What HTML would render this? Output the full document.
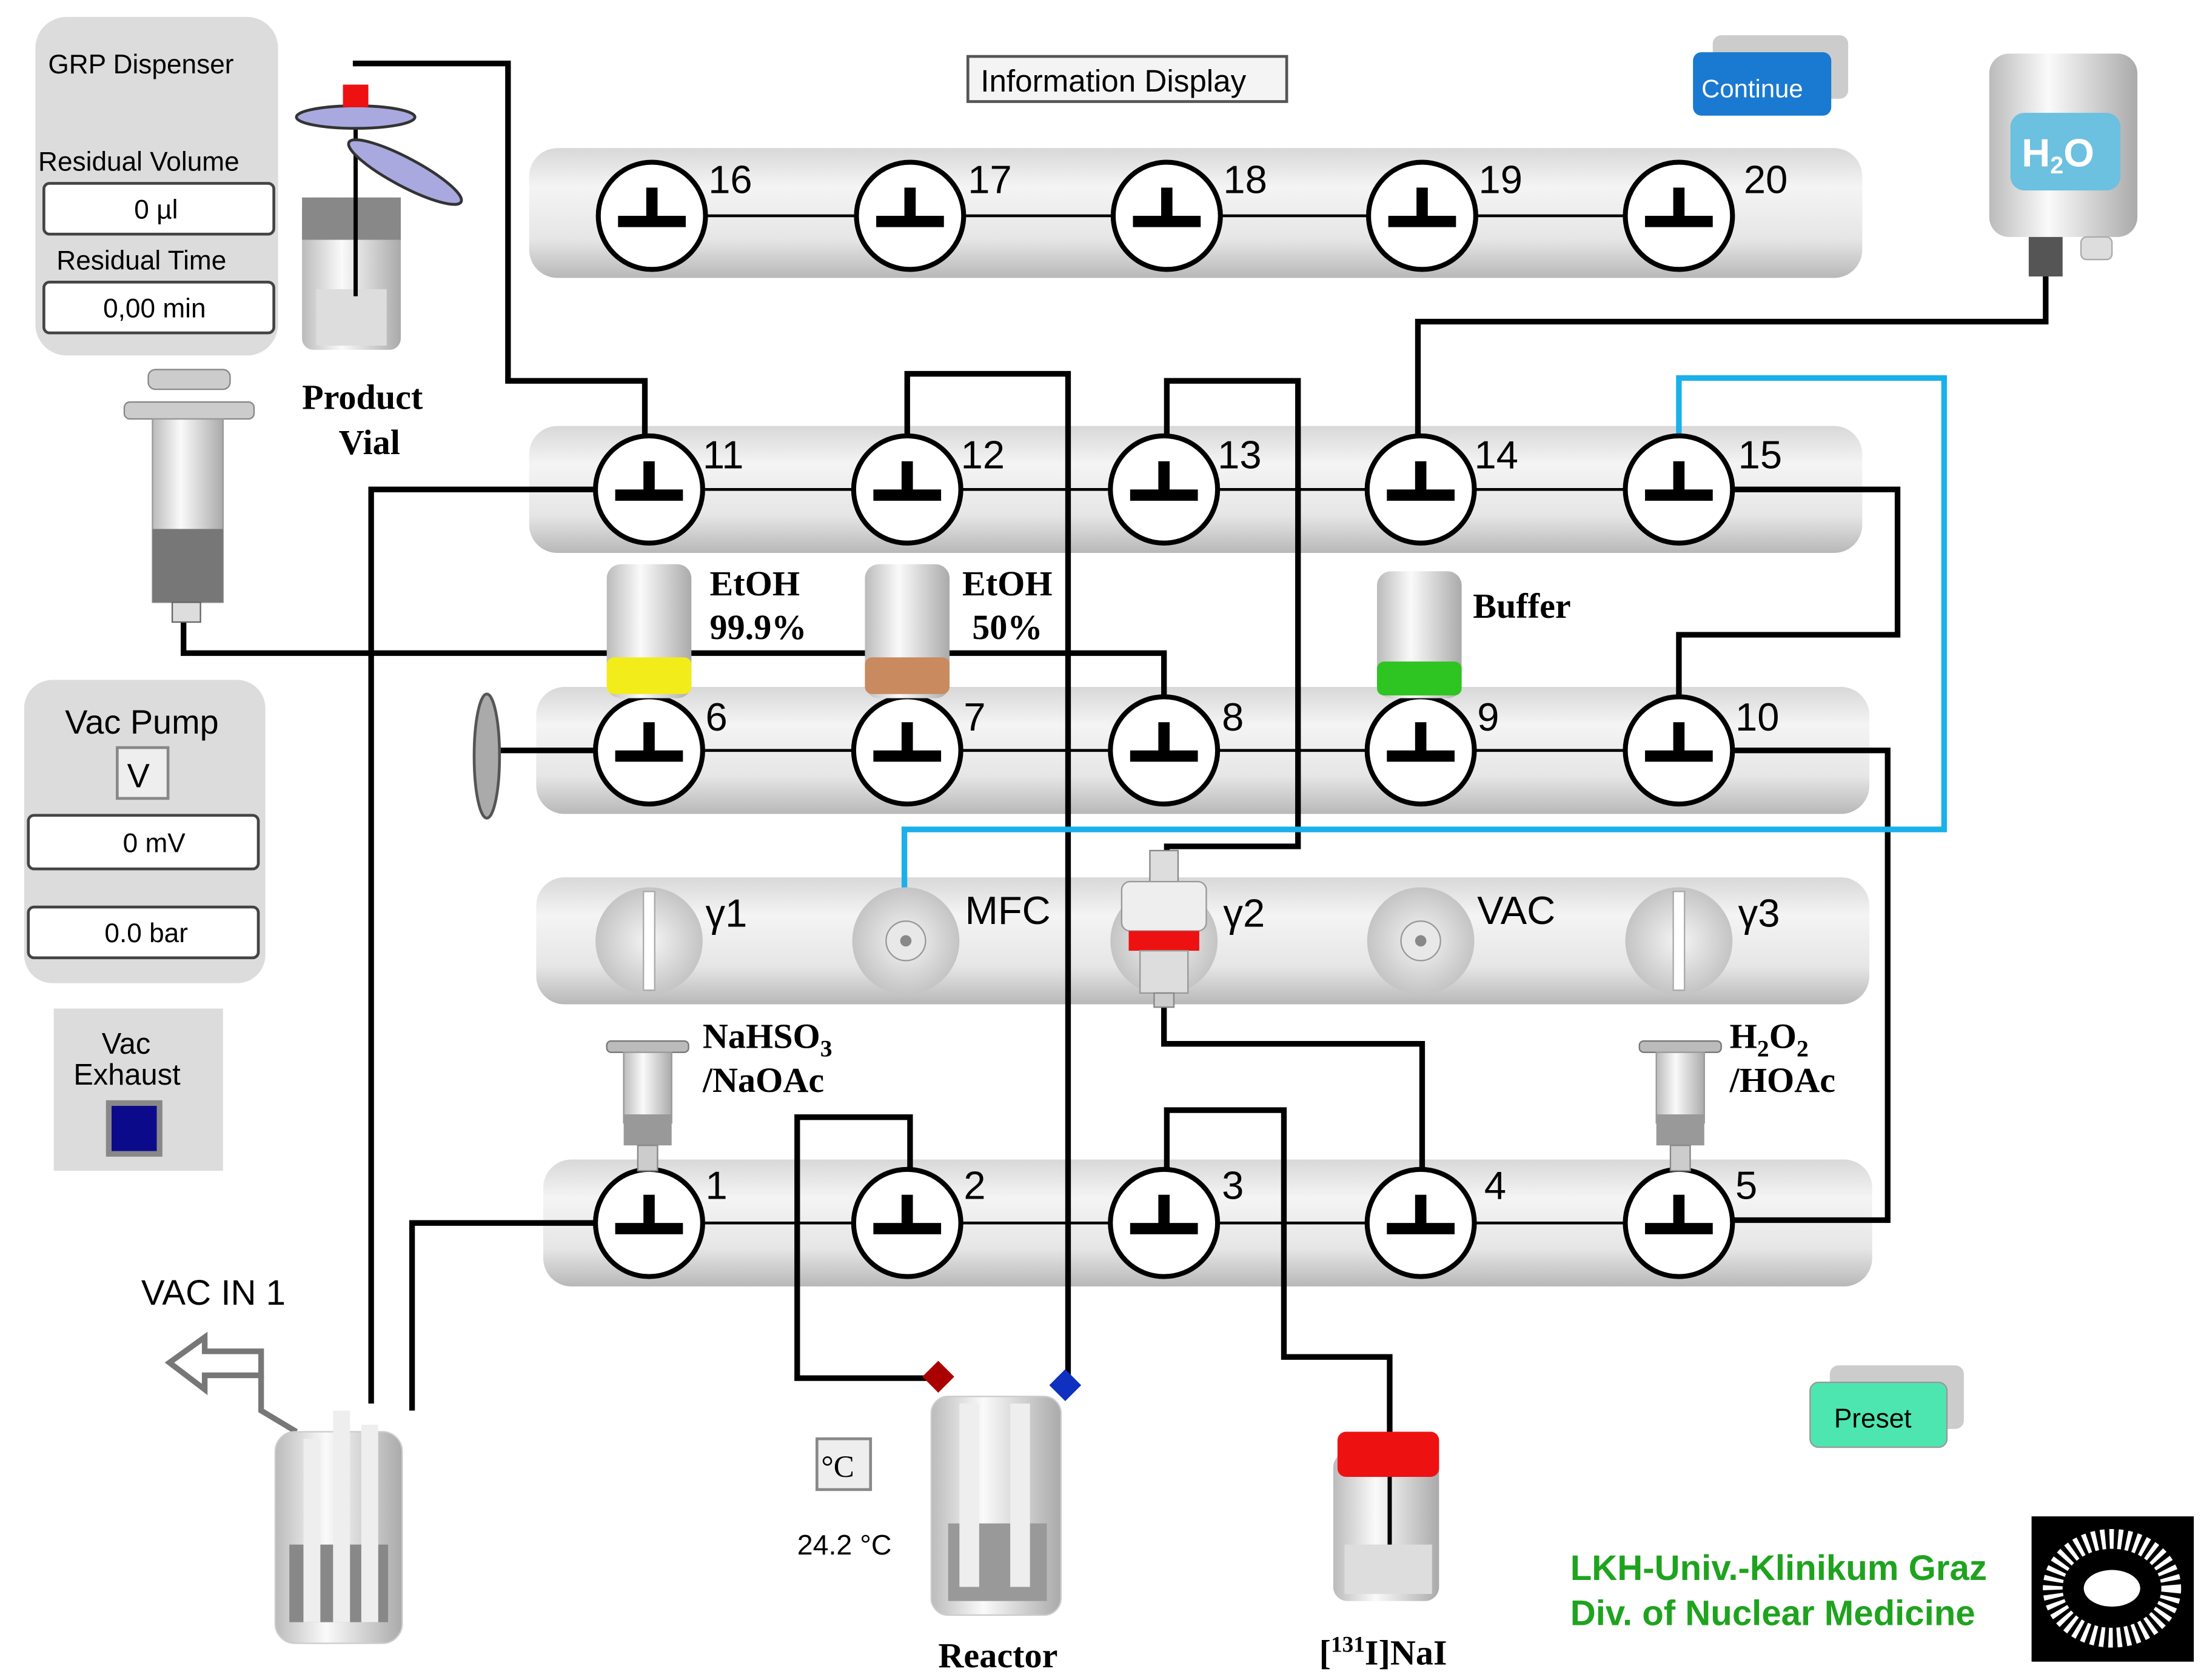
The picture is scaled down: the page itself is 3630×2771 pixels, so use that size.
<!DOCTYPE html>
<html><head><meta charset="utf-8"><style>
html,body{margin:0;padding:0;background:#fff;}
svg{display:block;}
</style></head><body>
<svg xmlns="http://www.w3.org/2000/svg" width="3630" height="2771" viewBox="0 0 1560 1191">
<defs>
<linearGradient id="rail" x1="0" y1="0" x2="0" y2="1">
<stop offset="0" stop-color="#d8d8d8"/><stop offset="0.3" stop-color="#f4f4f4"/><stop offset="0.7" stop-color="#e6e6e6"/><stop offset="1" stop-color="#b8b8b8"/></linearGradient>
<linearGradient id="cyl" x1="0" y1="0" x2="1" y2="0">
<stop offset="0" stop-color="#bbb"/><stop offset="0.4" stop-color="#fafafa"/><stop offset="1" stop-color="#aaa"/></linearGradient>
<radialGradient id="knob"><stop offset="0" stop-color="#f5f5f5"/><stop offset="1" stop-color="#c4c4c4"/></radialGradient>
<g id="v"><circle r="38" fill="#fff" stroke="#000" stroke-width="3.5"/><rect x="-24" y="0" width="48" height="8" fill="#000"/><rect x="-4" y="-20" width="8" height="24" fill="#000"/></g>
</defs>
<rect width="1560" height="1191" fill="#fff"/>

<!-- rails -->
<rect x="375" y="105" width="945" height="92" rx="20" fill="url(#rail)"/>
<rect x="375" y="302" width="945" height="90" rx="20" fill="url(#rail)"/>
<rect x="380" y="487" width="945" height="90" rx="20" fill="url(#rail)"/>
<rect x="380" y="622" width="945" height="90" rx="20" fill="url(#rail)"/>
<rect x="385" y="822" width="942" height="90" rx="20" fill="url(#rail)"/>

<!-- horizontal links between valves -->
<g stroke="#000" stroke-width="2">
<line x1="462" y1="153" x2="1190" y2="153"/>
<line x1="462" y1="347" x2="1190" y2="347"/>
<line x1="462" y1="532" x2="1190" y2="532"/>
<line x1="462" y1="867" x2="1190" y2="867"/>
</g>

<!-- tubes -->
<g fill="none" stroke="#000" stroke-width="4">
<polyline points="250,45 360,45 360,270 457,270 457,312"/>
<polyline points="643,312 643,265 757,265 757,982"/>
<polyline points="827,312 827,270 920,270 920,600 827,600 827,625"/>
<polyline points="1005,312 1005,228 1450,228 1450,195"/>
<polyline points="1228,347 1345,347 1345,450 1190,450 1190,495"/>
<polyline points="424,347 263,347 263,995"/>
<polyline points="130,440 130,463 825,463 825,495"/>
<polyline points="1228,532 1338,532 1338,865 1228,865"/>
<polyline points="825,712 825,740 1008,740 1008,830"/>
<polyline points="645,830 645,792 565,792 565,977 662,977"/>
<polyline points="827,830 827,787 910,787 910,962 985,962 985,1018"/>
<polyline points="424,867 292,867 292,1000"/>
<polyline points="424,532 350,532"/>
</g>
<polyline points="1190,312 1190,268 1378,268 1378,588 641,588 641,665" fill="none" stroke="#1ab0ea" stroke-width="4"/>

<!-- valves -->
<g font-family="Liberation Sans, sans-serif" font-size="28" fill="#000">
<use href="#v" x="462" y="153"/><use href="#v" x="645" y="153"/><use href="#v" x="827" y="153"/><use href="#v" x="1008" y="153"/><use href="#v" x="1190" y="153"/>
<text x="502" y="137">16</text><text x="686" y="137">17</text><text x="867" y="137">18</text><text x="1048" y="137">19</text><text x="1236" y="137">20</text>
<use href="#v" x="460" y="347"/><use href="#v" x="643" y="347"/><use href="#v" x="825" y="347"/><use href="#v" x="1007" y="347"/><use href="#v" x="1190" y="347"/>
<text x="498" y="332">11</text><text x="681" y="332">12</text><text x="863" y="332">13</text><text x="1045" y="332">14</text><text x="1232" y="332">15</text>
<use href="#v" x="460" y="532"/><use href="#v" x="643" y="532"/><use href="#v" x="825" y="532"/><use href="#v" x="1007" y="532"/><use href="#v" x="1190" y="532"/>
<text x="500" y="518">6</text><text x="683" y="518">7</text><text x="866" y="518">8</text><text x="1047" y="518">9</text><text x="1230" y="518">10</text>
<use href="#v" x="460" y="867"/><use href="#v" x="643" y="867"/><use href="#v" x="825" y="867"/><use href="#v" x="1007" y="867"/><use href="#v" x="1190" y="867"/>
<text x="500" y="850">1</text><text x="683" y="850">2</text><text x="866" y="850">3</text><text x="1052" y="850">4</text><text x="1230" y="850">5</text>
</g>

<!-- gamma rail elements -->
<g>
<circle cx="460" cy="667" r="38" fill="url(#knob)"/><rect x="456" y="632" width="8" height="70" fill="#fff" stroke="#aaa"/>
<circle cx="642" cy="667" r="38" fill="url(#knob)"/><circle cx="642" cy="667" r="14" fill="#e8e8e8" stroke="#999"/><circle cx="642" cy="667" r="4" fill="#888"/>
<circle cx="825" cy="667" r="38" fill="url(#knob)"/>
<rect x="815" y="603" width="20" height="22" fill="#ddd" stroke="#888"/>
<rect x="795" y="625" width="60" height="35" rx="6" fill="#eee" stroke="#999"/>
<rect x="800" y="660" width="50" height="14" fill="#ee1111"/>
<rect x="808" y="674" width="34" height="30" fill="#ddd" stroke="#999"/>
<rect x="818" y="704" width="14" height="10" fill="#ccc" stroke="#888"/>
<circle cx="1007" cy="667" r="38" fill="url(#knob)"/><circle cx="1007" cy="667" r="14" fill="#e8e8e8" stroke="#999"/><circle cx="1007" cy="667" r="4" fill="#888"/>
<circle cx="1190" cy="667" r="38" fill="url(#knob)"/><rect x="1186" y="632" width="8" height="70" fill="#fff" stroke="#aaa"/>
</g>
<g font-family="Liberation Sans, sans-serif" font-size="28" fill="#000">
<text x="500" y="657">γ1</text><text x="684" y="655">MFC</text><text x="867" y="657">γ2</text><text x="1047" y="655">VAC</text><text x="1232" y="657">γ3</text>
</g>

<!-- reagent vials -->
<g>
<rect x="430" y="400" width="60" height="95" rx="10" fill="url(#cyl)"/><rect x="430" y="466" width="60" height="26" rx="5" fill="#f2ec1a"/>
<rect x="613" y="400" width="60" height="95" rx="10" fill="url(#cyl)"/><rect x="613" y="466" width="60" height="26" rx="5" fill="#c98a5f"/>
<rect x="976" y="405" width="60" height="90" rx="10" fill="url(#cyl)"/><rect x="976" y="469" width="60" height="24" rx="5" fill="#2ec421"/>
</g>
<g font-family="Liberation Serif, serif" font-size="25" font-weight="bold" fill="#000">
<text x="503" y="422">EtOH</text><text x="503" y="453">99.9%</text>
<text x="682" y="422">EtOH</text><text x="689" y="453">50%</text>
<text x="1044" y="438">Buffer</text>
<text x="498" y="743">NaHSO<tspan font-size="17" dy="6">3</tspan></text><text x="498" y="774">/NaOAc</text>
<text x="1226" y="743">H<tspan font-size="17" dy="6">2</tspan><tspan dy="-6">O</tspan><tspan font-size="17" dy="6">2</tspan></text><text x="1226" y="774">/HOAc</text>
<text x="214" y="290">Product</text><text x="240" y="322">Vial</text>
<text x="665" y="1182">Reactor</text>
<text x="935" y="1180">[<tspan font-size="16" dy="-9">131</tspan><tspan dy="9">I]NaI</tspan></text>
</g>

<!-- small syringes -->
<g>
<rect x="430" y="738" width="58" height="8" rx="3" fill="#bbb" stroke="#777"/><rect x="442" y="746" width="34" height="50" fill="url(#cyl)" stroke="#999"/><rect x="442" y="790" width="34" height="22" fill="#999"/><rect x="452" y="812" width="14" height="18" fill="#ccc" stroke="#888"/>
<rect x="1162" y="738" width="58" height="8" rx="3" fill="#bbb" stroke="#777"/><rect x="1174" y="746" width="34" height="50" fill="url(#cyl)" stroke="#999"/><rect x="1174" y="790" width="34" height="22" fill="#999"/><rect x="1184" y="812" width="14" height="18" fill="#ccc" stroke="#888"/>
</g>

<!-- big syringe -->
<g>
<rect x="105" y="262" width="58" height="14" rx="5" fill="#ccc" stroke="#888"/>
<rect x="88" y="285" width="92" height="12" rx="4" fill="#ccc" stroke="#888"/>
<rect x="108" y="297" width="50" height="130" fill="url(#cyl)" stroke="#999"/>
<rect x="108" y="375" width="50" height="52" fill="#777"/>
<rect x="122" y="427" width="20" height="14" fill="#ddd" stroke="#666"/>
</g>

<!-- filter disc at valve 6 -->
<ellipse cx="345" cy="536" rx="9" ry="44" fill="#aaa" stroke="#555" stroke-width="2"/>

<!-- product vial -->
<g>
<rect x="214" y="140" width="70" height="108" rx="8" fill="url(#cyl)"/>
<rect x="214" y="140" width="70" height="30" fill="#888"/>
<rect x="224" y="205" width="50" height="40" fill="#ddd"/>
<line x1="252" y1="70" x2="252" y2="210" stroke="#000" stroke-width="3"/>
<ellipse cx="252" cy="83" rx="42" ry="8" fill="#a9a9e0" stroke="#333" stroke-width="2"/>
<rect x="243" y="60" width="18" height="16" fill="#ee1111"/>
<ellipse cx="287" cy="122" rx="45" ry="10" transform="rotate(28 287 122)" fill="#a9a9e0" stroke="#333" stroke-width="2"/>
</g>

<!-- GRP Dispenser -->
<rect x="25" y="12" width="172" height="240" rx="22" fill="#dcdcdc"/>
<g font-family="Liberation Sans, sans-serif" fill="#000">
<text x="34" y="52" font-size="19">GRP Dispenser</text>
<text x="27" y="121" font-size="19">Residual Volume</text>
<rect x="31" y="130" width="163" height="36" rx="4" fill="#fff" stroke="#444" stroke-width="2"/>
<text x="95" y="155" font-size="19">0 µl</text>
<text x="40" y="191" font-size="19">Residual Time</text>
<rect x="31" y="200" width="163" height="36" rx="4" fill="#fff" stroke="#444" stroke-width="2"/>
<text x="73" y="225" font-size="19">0,00 min</text>
</g>

<!-- Vac Pump -->
<rect x="17" y="482" width="171" height="215" rx="20" fill="#dcdcdc"/>
<g font-family="Liberation Sans, sans-serif" fill="#000">
<text x="46" y="520" font-size="24">Vac Pump</text>
<rect x="83" y="530" width="36" height="36" fill="#eee" stroke="#888" stroke-width="2"/>
<text x="90" y="558" font-size="24">V</text>
<rect x="20" y="578" width="163" height="38" rx="4" fill="#fff" stroke="#444" stroke-width="2"/>
<text x="87" y="604" font-size="19">0 mV</text>
<rect x="20" y="643" width="163" height="36" rx="4" fill="#fff" stroke="#444" stroke-width="2"/>
<text x="74" y="668" font-size="19">0.0 bar</text>
</g>

<!-- Vac Exhaust -->
<rect x="38" y="715" width="120" height="115" fill="#dcdcdc"/>
<g font-family="Liberation Sans, sans-serif" font-size="21" fill="#000">
<text x="72" y="747">Vac</text><text x="52" y="769">Exhaust</text>
</g>
<rect x="77" y="782" width="36" height="36" fill="#0a0a8a" stroke="#888" stroke-width="4"/>

<!-- Information Display -->
<rect x="686" y="40" width="226" height="32" fill="#f4f4f4" stroke="#555" stroke-width="2"/>
<text x="695" y="65" font-family="Liberation Sans, sans-serif" font-size="22">Information Display</text>

<!-- Continue -->
<rect x="1214" y="25" width="96" height="45" rx="6" fill="#ccc"/>
<rect x="1200" y="37" width="98" height="45" rx="6" fill="#1a79d0"/>
<text x="1206" y="69" font-family="Liberation Sans, sans-serif" font-size="18" fill="#fff">Continue</text>

<!-- Preset -->
<rect x="1297" y="968" width="95" height="45" rx="6" fill="#ccc"/>
<rect x="1283" y="980" width="97" height="46" rx="6" fill="#4de6b0" stroke="#999"/>
<text x="1300" y="1012" font-family="Liberation Sans, sans-serif" font-size="19">Preset</text>

<!-- H2O bottle -->
<rect x="1410" y="38" width="105" height="130" rx="14" fill="url(#cyl)"/>
<rect x="1425" y="80" width="78" height="55" rx="10" fill="#6cc0e0"/>
<text x="1433" y="118" font-family="Liberation Sans, sans-serif" font-size="28" font-weight="bold" fill="#fff">H<tspan font-size="17" dy="5">2</tspan><tspan dy="-5">O</tspan></text>
<rect x="1438" y="168" width="24" height="28" fill="#555"/>
<rect x="1475" y="168" width="22" height="16" rx="4" fill="#ddd" stroke="#aaa"/>

<!-- VAC IN arrow -->
<text x="100" y="925" font-family="Liberation Sans, sans-serif" font-size="25">VAC IN 1</text>
<polygon points="120,966 145,948 145,958 185,958 185,975 145,975 145,985" fill="#fff" stroke="#777" stroke-width="4"/>
<polyline points="185,975 185,1000 210,1015" fill="none" stroke="#777" stroke-width="4"/>

<!-- collection vessel -->
<rect x="195" y="1015" width="90" height="150" rx="14" fill="url(#cyl)" stroke="#ccc"/>
<rect x="205" y="1095" width="70" height="55" fill="#888"/>
<rect x="215" y="1020" width="12" height="130" fill="#eee"/>
<rect x="236" y="1000" width="12" height="150" fill="#eee"/>
<rect x="256" y="1010" width="12" height="140" fill="#eee"/>

<!-- reactor -->
<rect x="660" y="990" width="92" height="155" rx="12" fill="url(#cyl)" stroke="#ccc"/>
<rect x="672" y="1080" width="70" height="55" fill="#999"/>
<rect x="680" y="995" width="14" height="130" fill="#eee"/>
<rect x="716" y="995" width="14" height="130" fill="#eee"/>
<rect x="657" y="968" width="16" height="16" transform="rotate(45 665 976)" fill="#a00"/>
<rect x="747" y="974" width="16" height="16" transform="rotate(45 755 982)" fill="#1030c0"/>

<!-- temperature -->
<rect x="579" y="1020" width="38" height="36" fill="#eee" stroke="#888" stroke-width="2"/>
<text x="582" y="1047" font-family="Liberation Serif, serif" font-size="22">°C</text>
<text x="565" y="1102" font-family="Liberation Sans, sans-serif" font-size="20">24.2 °C</text>

<!-- NaI vial -->
<rect x="945" y="1030" width="75" height="105" rx="10" fill="url(#cyl)"/>
<rect x="948" y="1015" width="72" height="32" rx="6" fill="#ee1111"/>
<rect x="953" y="1095" width="62" height="35" fill="#ddd"/>
<line x1="985" y1="1047" x2="985" y2="1095" stroke="#000" stroke-width="3"/>

<!-- institution -->
<g font-family="Liberation Sans, sans-serif" font-size="25" font-weight="bold" fill="#1fa31f">
<text x="1113" y="1120">LKH-Univ.-Klinikum Graz</text>
<text x="1113" y="1152">Div. of Nuclear Medicine</text>
</g>
<rect x="1440" y="1075" width="115" height="103" fill="#000"/>
<ellipse cx="1497" cy="1126" rx="42" ry="35" fill="none" stroke="#fff" stroke-width="14" stroke-dasharray="3 3"/>
<ellipse cx="1497" cy="1126" rx="20" ry="13" fill="#fff"/>
</svg>
</body></html>
